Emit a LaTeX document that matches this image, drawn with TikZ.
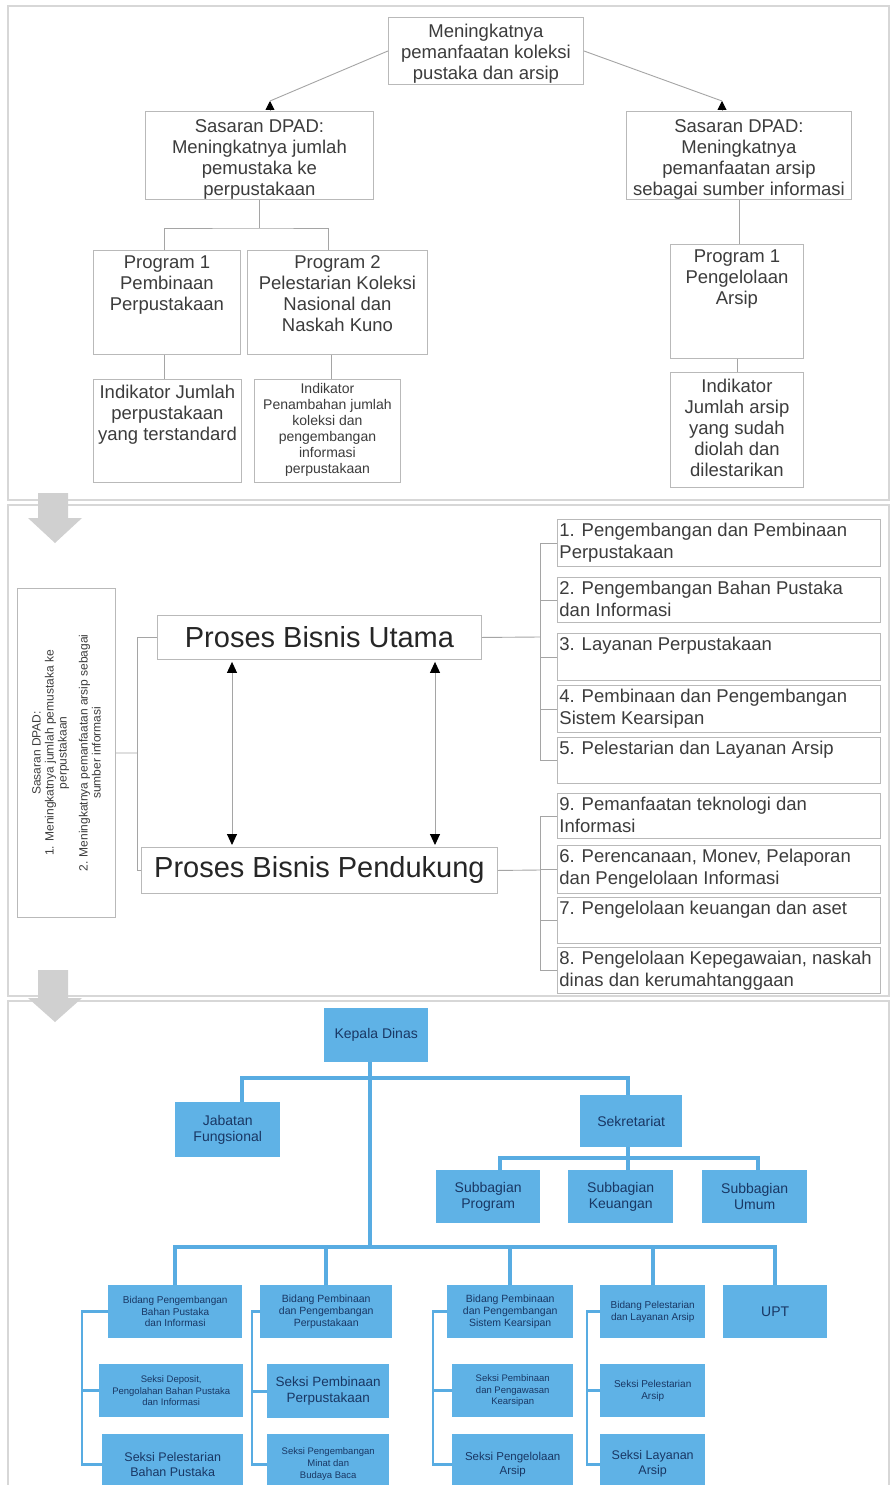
\documentclass[tikz,border=0pt]{standalone}
\usepackage{fontspec}
\setmainfont{Liberation Sans}
\usepackage{graphicx}
\usetikzlibrary{arrows.meta}
\definecolor{txt}{RGB}{60,60,60}
\definecolor{bord}{RGB}{185,185,185}
\definecolor{conn}{RGB}{165,165,165}
\definecolor{framec}{RGB}{215,215,215}
\definecolor{garrow}{RGB}{208,208,208}
\definecolor{bfill}{RGB}{95,178,230}
\definecolor{blinec}{RGB}{88,172,226}
\definecolor{btxt}{RGB}{25,55,100}
\newcommand\fA{\fontsize{18.5}{21}\selectfont}
\newcommand\fB{\fontsize{14}{16}\selectfont}
\newcommand\fC{\fontsize{12}{13}\selectfont}
\newcommand\fD{\fontsize{29}{32}\selectfont}
\newcommand\fE{\fontsize{18.5}{22}\selectfont}
% blue text box: width, height, size, skip, text
\newcommand\bt[5]{\parbox[c][#2pt][c]{#1pt}{\centering\fontsize{#3}{#4}\selectfont #5}}
% item box: height, text
\newcommand\itm[2]{\parbox[c][#1pt][t]{323pt}{\raggedright\fE\leftskip=2pt\vspace*{4pt}#2}}
\tikzset{
  gb/.style={draw=bord, line width=0.9pt, fill=white, inner sep=0pt, text=txt, anchor=north west},
  bb/.style={fill=bfill, draw=none, inner sep=0pt, text=btxt, anchor=north west},
  gl/.style={draw=conn, line width=0.9pt},
  bl/.style={draw=blinec, line width=3.8pt},
  blt/.style={draw=blinec, line width=2.6pt},
  uptip/.style={-{Triangle[length=9pt,width=9pt,color=black]}},
  dtip/.style={{Triangle[length=11pt,width=10pt,color=black]}-{Triangle[length=11pt,width=10pt,color=black]}, shorten <=2pt, shorten >=2pt},
  panel/.style={draw=framec, line width=2.2pt}
}
\begin{document}
\begin{tikzpicture}[x=1pt,y=-1pt]
\clip (0,0) rectangle (891,1485);
\fill[white] (0,0) rectangle (891,1485);
% panels
\draw[panel] (8,6) rectangle (889,500);
\draw[panel] (8,505) rectangle (889,996);
\draw[panel] (8,1001) rectangle (889,1495);
% gray block arrows
\fill[garrow] (38,493) -- (68,493) -- (68,518) -- (82,518) -- (55,543) -- (28,518) -- (38,518) -- cycle;
\fill[garrow] (38,970) -- (68,970) -- (68,998) -- (82,998) -- (55,1022) -- (28,998) -- (38,998) -- cycle;

% ---------- top section ----------
\node[gb] (top) at (388,17) {\parbox[c][67pt][c]{195pt}{\centering\fA\vspace*{6pt}Meningkatnya\\pemanfaatan koleksi\\pustaka dan arsip}};
\node[gb] (sasL) at (145,111) {\parbox[c][88pt][c]{228pt}{\centering\fA\vspace*{8pt}Sasaran DPAD:\\Meningkatnya jumlah\\pemustaka ke\\perpustakaan}};
\node[gb] (sasR) at (626,111) {\parbox[c][88pt][c]{225pt}{\centering\fA\vspace*{8pt}Sasaran DPAD:\\Meningkatnya\\pemanfaatan arsip\\sebagai sumber informasi}};
\node[gb] (pL1) at (93,250) {\parbox[c][104pt][t]{147pt}{\centering\fA\vspace*{5pt}Program 1\\Pembinaan\\Perpustakaan}};
\node[gb] (pL2) at (247,250) {\parbox[c][104pt][t]{180pt}{\centering\fA\vspace*{5pt}Program 2\\Pelestarian Koleksi\\Nasional dan\\Naskah Kuno}};
\node[gb] (iL1) at (93,379) {\parbox[c][103pt][t]{148pt}{\centering\fA\vspace*{6pt}Indikator Jumlah\\perpustakaan\\yang terstandard}};
\node[gb] (iL2) at (254,379) {\parbox[c][103pt][t]{146pt}{\centering\fB\vspace*{4pt}Indikator\\Penambahan jumlah\\koleksi dan\\pengembangan\\informasi\\perpustakaan}};
\node[gb] (pR) at (670,244) {\parbox[c][114pt][t]{133pt}{\centering\fA\vspace*{5pt}Program 1\\Pengelolaan\\Arsip}};
\node[gb] (iR) at (670,372) {\parbox[c][115pt][t]{133pt}{\centering\fA\vspace*{7pt}Indikator\\Jumlah arsip\\yang sudah\\diolah dan\\dilestarikan}};

\coordinate (tipL) at (270,101);
\coordinate (tipR) at (722,101);
\draw[gl] (top.west) -- (tipL);
\draw[gl, uptip] (sasL.north -| tipL) -- (tipL);
\draw[gl] (top.east) -- (tipR);
\draw[gl, uptip] (sasR.north -| tipR) -- (tipR);
\coordinate (barL) at (0,228);
\draw[gl] (sasL.south) -- (sasL.south |- barL);
\draw[gl] ([xshift=-3pt]pL1.north) |- (sasL.south |- barL) -| ([xshift=-9pt]pL2.north);
\draw[gl] ([xshift=-3pt]pL1.south) -- ([xshift=-3pt]pL1.south |- iL1.north);
\draw[gl] ([xshift=-6pt]pL2.south) -- ([xshift=-6pt]pL2.south |- iL2.north);
\draw[gl] (sasR.south) -- (sasR.south |- pR.north);
\draw[gl] (pR.south) -- (iR.north);

% ---------- middle section ----------
\node[gb] (sas) at (17,588) {\parbox[c][329pt][c]{98pt}{\centering\rotatebox{90}{\parbox{305pt}{\centering\fC Sasaran DPAD:\\1. Meningkatnya jumlah pemustaka ke\\perpustakaan\\[8pt]2. Meningkatnya pemanfaatan arsip sebagai\\sumber informasi}}}};
\node[gb, text=black!85] (pbu) at (157,615) {\parbox[c][44pt][c]{324pt}{\centering\fD Proses Bisnis Utama}};
\node[gb, text=black!85] (pbp) at (141,847) {\parbox[c][46pt][c]{356pt}{\centering\fD Proses Bisnis Pendukung}};

\node[gb] (i1) at (557,519) {\itm{47}{1. Pengembangan dan Pembinaan\\Perpustakaan}};
\node[gb] (i2) at (557,577) {\itm{45}{2. Pengembangan Bahan Pustaka\\dan Informasi}};
\node[gb] (i3) at (557,633) {\itm{47}{3. Layanan Perpustakaan}};
\node[gb] (i4) at (557,685) {\itm{47}{4. Pembinaan dan Pengembangan\\Sistem Kearsipan}};
\node[gb] (i5) at (557,737) {\itm{46}{5. Pelestarian dan Layanan Arsip}};
\node[gb] (i9) at (557,793) {\itm{45}{9. Pemanfaatan teknologi dan\\Informasi}};
\node[gb] (i6) at (557,845) {\itm{48}{6. Perencanaan, Monev, Pelaporan\\dan Pengelolaan Informasi}};
\node[gb] (i7) at (557,897) {\itm{46}{7. Pengelolaan keuangan dan aset}};
\node[gb] (i8) at (557,947) {\itm{46}{8. Pengelolaan Kepegawaian, naskah\\dinas dan kerumahtanggaan}};

\coordinate (jl) at (137,753);
\draw[gl] (sas.east) -- (jl);
\draw[gl] (pbu.west) -| (jl);
\draw[gl] (pbp.west) -| (jl);
\coordinate (jr1) at (540,637);
\draw[gl] (pbu.east) -- (jr1);
\foreach \n in {i1,i2,i3,i4,i5} \draw[gl] (\n.west) -| (jr1);
\coordinate (jr2) at (540,870);
\draw[gl] (pbp.east) -- (jr2);
\foreach \n in {i9,i6,i7,i8} \draw[gl] (\n.west) -| (jr2);
\coordinate (ax1) at (232,0);
\coordinate (ax2) at (435,0);
\draw[gl, dtip] (pbu.south -| ax1) -- (pbp.north -| ax1);
\draw[gl, dtip] (pbu.south -| ax2) -- (pbp.north -| ax2);

% ---------- org chart ----------
\node[bb] (kd) at (324,1008) {\bt{104}{54}{14}{16.5}{Kepala Dinas}};
\node[bb] (jf) at (175,1102) {\bt{105}{55}{14}{16.5}{Jabatan\\Fungsional}};
\node[bb] (sek) at (580,1095) {\bt{102}{52}{14}{16.5}{Sekretariat}};
\node[bb] (sp) at (436,1170) {\bt{104}{53}{14}{16.5}{Subbagian\\Program}};
\node[bb] (sk) at (568,1170) {\bt{105}{53}{14}{16.5}{Subbagian\\Keuangan}};
\node[bb] (su) at (702,1170) {\bt{105}{53}{14}{16.5}{Subbagian\\Umum}};

\node[bb] (b1) at (108,1285) {\bt{134}{53}{10}{11.7}{Bidang Pengembangan\\Bahan Pustaka\\dan Informasi}};
\node[bb] (b2) at (260,1285) {\bt{132}{53}{10.5}{11.7}{Bidang Pembinaan\\dan Pengembangan\\Perpustakaan}};
\node[bb] (b3) at (447,1285) {\bt{126}{53}{10.5}{11.7}{Bidang Pembinaan\\dan Pengembangan\\Sistem Kearsipan}};
\node[bb] (b4) at (600,1285) {\bt{105}{53}{10}{11.7}{Bidang Pelestarian\\dan Layanan Arsip}};
\node[bb] (upt) at (723,1285) {\bt{104}{53}{14}{16}{UPT}};

\node[bb] (s11) at (99,1364) {\bt{144}{53}{9.5}{11.7}{Seksi Deposit,\\Pengolahan Bahan Pustaka\\dan Informasi}};
\node[bb] (s12) at (102,1434) {\bt{141}{60}{12.5}{15}{Seksi Pelestarian\\Bahan Pustaka}};
\node[bb] (s21) at (267,1364) {\bt{122}{54}{13.5}{16}{Seksi Pembinaan\\Perpustakaan}};
\node[bb] (s22) at (267,1434) {\bt{122}{60}{9.5}{11.7}{Seksi Pengembangan\\Minat dan\\Budaya Baca}};
\node[bb] (s31) at (452,1364) {\bt{121}{53}{9.5}{11.7}{Seksi Pembinaan\\dan Pengawasan\\Kearsipan}};
\node[bb] (s32) at (452,1434) {\bt{121}{60}{11.5}{14}{Seksi Pengelolaan\\Arsip}};
\node[bb] (s41) at (600,1364) {\bt{105}{53}{10}{12.5}{Seksi Pelestarian\\Arsip}};
\node[bb] (s42) at (600,1434) {\bt{105}{60}{12.5}{15}{Seksi Layanan\\Arsip}};

\coordinate (kdx) at (370,0);
\coordinate (h1) at (370,1078);
\coordinate (h2) at (370,1247);
\coordinate (h3) at (0,1158);
\draw[bl] (kd.south -| kdx) -- (h2);
\draw[bl] ([xshift=14pt]jf.north) |- (h1) -| ([xshift=-3pt]sek.north);
\draw[bl] ([xshift=-3pt]sek.south) -- ([xshift=-3pt]sek.south |- sk.north);
\draw[bl] ([xshift=12pt]sp.north) |- ([xshift=-3pt]sek.south |- h3) -| ([xshift=3pt]su.north);
\draw[bl] (b1.north) |- (h2) -| (upt.north);
\foreach \n in {b2,b3,b4} \draw[bl] (\n.north) -- (\n.north |- h2);

\coordinate (c1) at (82,0);
\coordinate (c2) at (252,0);
\coordinate (c3) at (433,0);
\coordinate (c4) at (587,0);
\draw[blt] (b1.west) -| (c1 |- s12.west) -- (s12.west);
\draw[blt] (s11.west) -- (c1 |- s11.west);
\draw[blt] (b2.west) -| (c2 |- s22.west) -- (s22.west);
\draw[blt] (s21.west) -- (c2 |- s21.west);
\draw[blt] (b3.west) -| (c3 |- s32.west) -- (s32.west);
\draw[blt] (s31.west) -- (c3 |- s31.west);
\draw[blt] (b4.west) -| (c4 |- s42.west) -- (s42.west);
\draw[blt] (s41.west) -- (c4 |- s41.west);
\end{tikzpicture}
\end{document}
